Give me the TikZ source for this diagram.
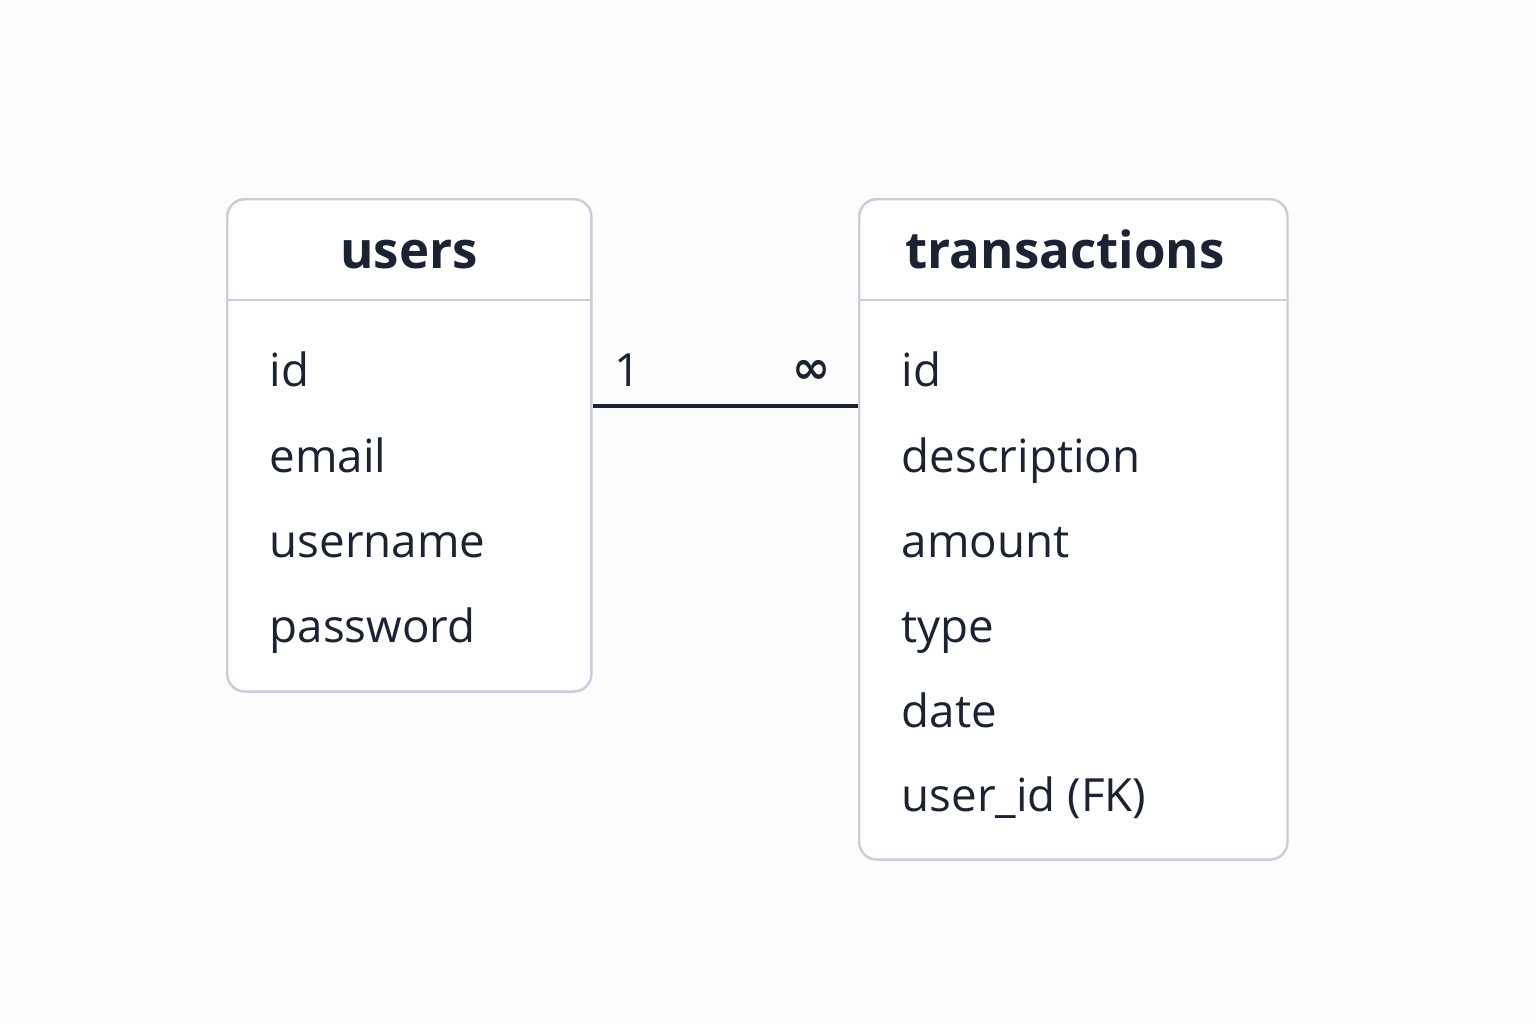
\documentclass[tikz,border=0pt]{standalone}
\usepackage{fontspec}
\setmainfont{Open Sans}
\newfontfamily\symfont{DejaVu Sans}
\usepackage{xcolor}
\usetikzlibrary{calc,positioning}

\definecolor{ink}{HTML}{1B2232}
\definecolor{frame}{HTML}{CDCBDC}
\definecolor{paper}{HTML}{FCFCFC}

\begin{document}
\begin{tikzpicture}[
    x=0.01cm,
    y=-0.01cm,
    every node/.style={font=\fontsize{13}{15}\selectfont, text=ink},
    table/.style={draw=frame, line width=0.7pt, fill=white,
        rounded corners=5pt, inner sep=0pt, anchor=north west},
    title/.style={font=\fontsize{14.5}{17}\selectfont\bfseries},
    field/.style={anchor=base west, inner sep=0pt},
    card/.style={anchor=base, inner sep=0pt}
]

% Canvas
\fill[paper] (0,0) rectangle (1536,1024);
\useasboundingbox (0,0) rectangle (1536,1024);

% Table users
\node[table, minimum width=3.64cm, minimum height=4.92cm]
    (users) at (226,198) {};
\draw[frame, line width=0.7pt]
    ($(users.west |- 0,300)$) -- ($(users.east |- 0,300)$);
\node[title, anchor=base] (usersT) at (409,268) {users};

\node[field] (uId)    at (269,386) {id};
\node[field] (uEmail) at (269,472) {email};
\node[field] (uName)  at (269,557) {username};
\node[field] (uPass)  at (269,642) {password};

% Table transactions
\node[table, minimum width=4.28cm, minimum height=6.60cm]
    (trans) at (858,198) {};
\draw[frame, line width=0.7pt]
    ($(trans.west |- 0,300)$) -- ($(trans.east |- 0,300)$);
\node[title, anchor=base] (transT) at (1065,268) {transactions};

\node[field] (tId)   at (901,386) {id};
\node[field] (tDesc) at (901,472) {description};
\node[field] (tAmt)  at (901,557) {amount};
\node[field] (tType) at (901,642) {type};
\node[field] (tDate) at (901,727) {date};
\node[field] (tUser) at (901,811) {user\_id (FK)};

% Relation
\coordinate (relA) at ($(users.east |- 0,406)$);
\coordinate (relB) at ($(trans.west |- 0,406)$);
\draw[ink, line width=1.2pt] (relA) -- (relB);

\node[card] (one)  at (628,386) {1};
\node[card] (many) at (812,383) {\symfont\bfseries ∞};

\end{tikzpicture}
\end{document}
